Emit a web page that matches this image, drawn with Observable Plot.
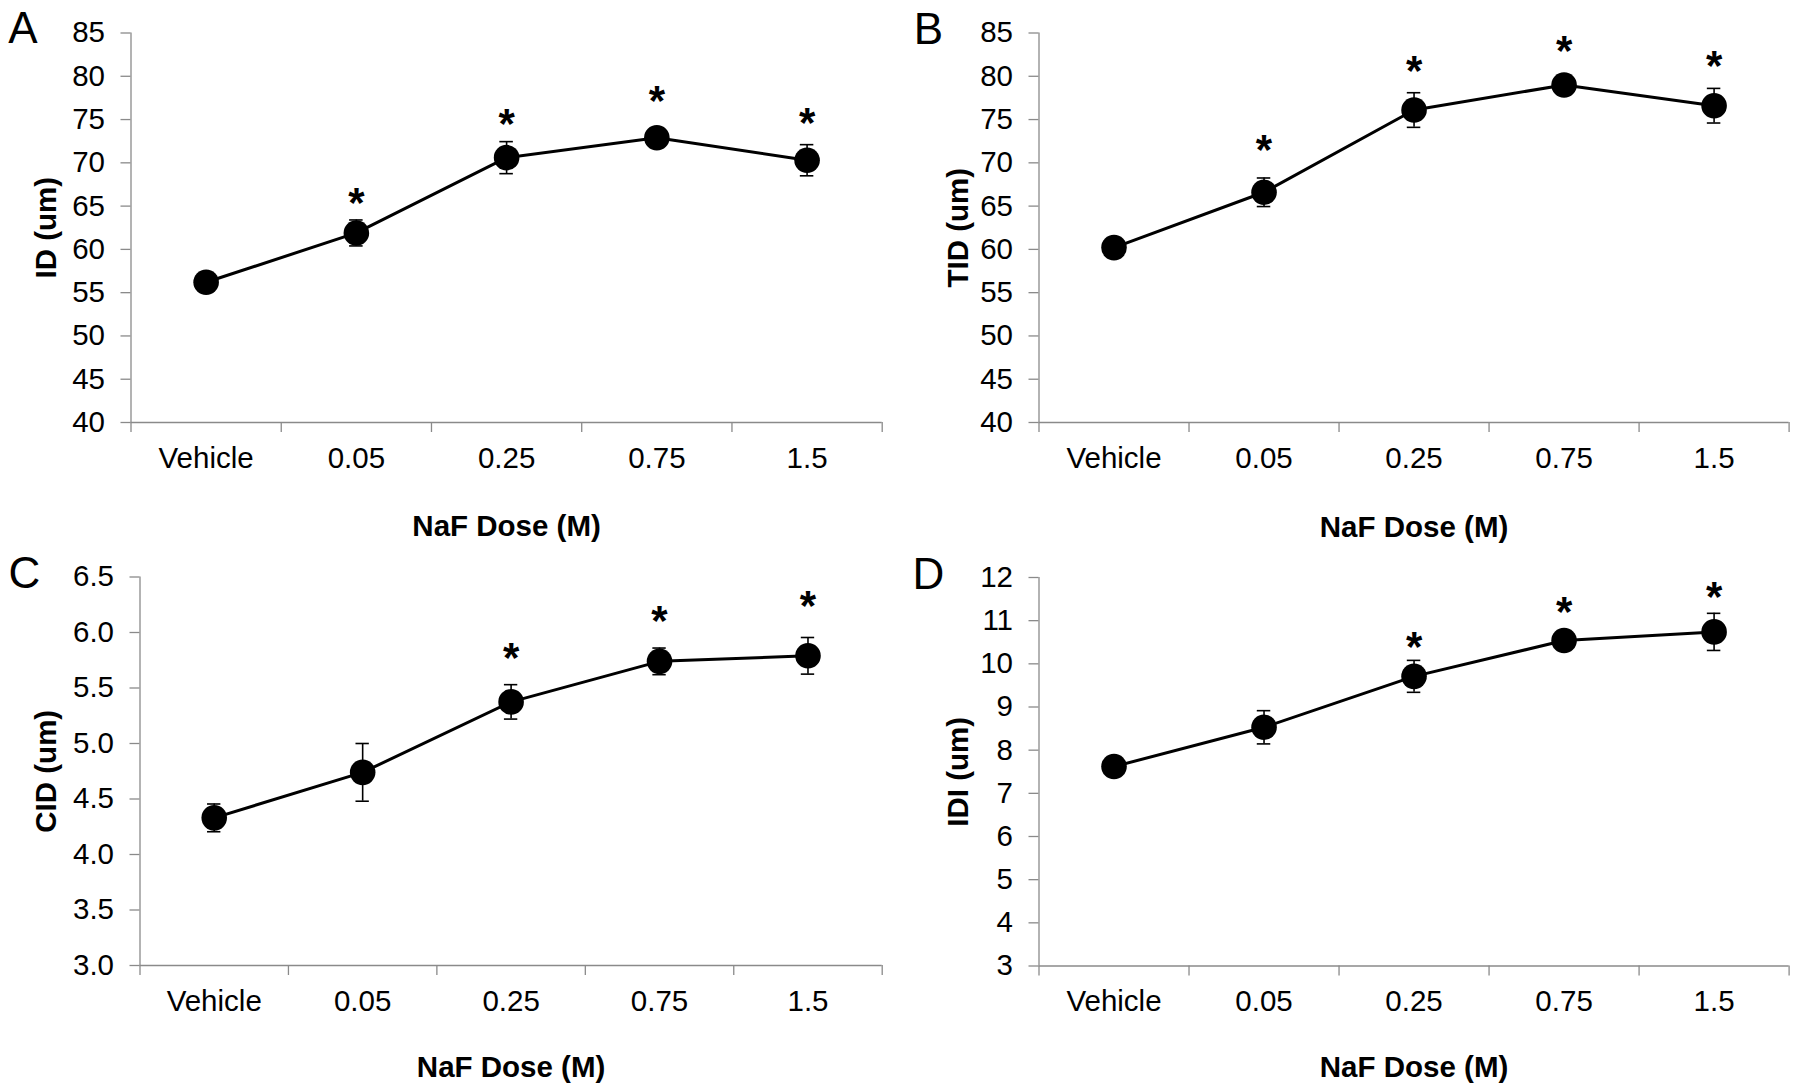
<!DOCTYPE html>
<html>
<head>
<meta charset="utf-8">
<script src="https://cdn.jsdelivr.net/npm/d3@7"></script>
<script src="https://cdn.jsdelivr.net/npm/@observablehq/plot@0.6"></script>
<style>
  html, body { margin: 0; padding: 0; background: #fff; }
  #root { position: relative; width: 1800px; height: 1089px; background: #fff; overflow: hidden; }
  #root > svg { position: absolute; }
</style>
</head>
<body>
<div id="root"></div>
<script>
// ---- data ----
const categories = ["Vehicle", "0.05", "0.25", "0.75", "1.5"];

const idMean  = [56.2, 61.9, 70.6, 72.9, 70.3];
const idErr   = [0.4, 1.5, 1.85, 0.7, 1.8];
const idStar  = [null, 66.2, 75.4, 78.0, 75.5];

const tidMean = [60.2, 66.6, 76.1, 79.0, 76.6];
const tidErr  = [0.5, 1.65, 2.0, 0.8, 2.0];
const tidStar = [null, 72.4, 81.5, 83.8, 82.1];

const cidMean = [4.33, 4.74, 5.375, 5.74, 5.79];
const cidErr  = [0.125, 0.26, 0.155, 0.12, 0.165];
const cidStar = [null, null, 5.84, 6.17, 6.31];

const idiMean = [7.62, 8.53, 9.71, 10.54, 10.74];
const idiErr  = [0.15, 0.385, 0.37, 0.15, 0.43];
const idiStar = [null, null, 10.57, 11.37, 11.73];

const ticksAB = [40, 45, 50, 55, 60, 65, 70, 75, 80, 85];
const ticksC  = [3.0, 3.5, 4.0, 4.5, 5.0, 5.5, 6.0, 6.5];
const ticksD  = [3, 4, 5, 6, 7, 8, 9, 10, 11, 12];

const xTitle = "NaF Dose (M)";

// ---- layout ----
const panels = [
  {letter: "A", ylabel: "ID (um)",  mean: idMean,  err: idErr,  star: idStar,  ticks: ticksAB, fmt: d3.format("d"),
   left: 0,   top: 0,   height: 545, mL: 130.5, mR: 18.3, mT: 32.5, mB: 123, yLabX: 46,   letX: 22.5, letY: 28,  xLabY: 526},
  {letter: "B", ylabel: "TID (um)", mean: tidMean, err: tidErr, star: tidStar, ticks: ticksAB, fmt: d3.format("d"),
   left: 900, top: 0,   height: 545, mL: 138.5, mR: 11.4, mT: 32.5, mB: 123, yLabX: 57.7, letX: 28,   letY: 29,  xLabY: 527},
  {letter: "C", ylabel: "CID (um)", mean: cidMean, err: cidErr, star: cidStar, ticks: ticksC,  fmt: d3.format(".1f"),
   left: 0,   top: 545, height: 544, mL: 139.5, mR: 18.3, mT: 31.5, mB: 124, yLabX: 46,   letX: 24,   letY: 28,  xLabY: 522},
  {letter: "D", ylabel: "IDI (um)", mean: idiMean, err: idiErr, star: idiStar, ticks: ticksD,  fmt: d3.format("d"),
   left: 900, top: 545, height: 544, mL: 138.5, mR: 11.4, mT: 32,   mB: 123.5, yLabX: 57.7, letX: 28,  letY: 29,  xLabY: 522}
];

const grey = "#8a8a8a";
const font = "'Liberation Sans', Arial, sans-serif";
const root = document.getElementById("root");

for (const p of panels) {
  const rows = categories.map((c, i) => ({i, c, v: p.mean[i], e: p.err[i], s: p.star[i]}));
  const cx = d => d.i + 0.5;
  const capW = 0.045;
  const yDom = [p.ticks[0], p.ticks[p.ticks.length - 1]];
  const frameBottom = p.height - p.mB;

  const chart = Plot.plot({
    width: 900,
    height: p.height,
    marginLeft: p.mL,
    marginRight: p.mR,
    marginTop: p.mT,
    marginBottom: p.mB,
    style: {fontFamily: font, fontSize: "29px", color: "#000", background: "transparent", overflow: "visible"},
    x: {type: "linear", domain: [0, categories.length]},
    y: {domain: yDom},
    marks: [
      // axes
      Plot.axisY({ticks: p.ticks, tickSize: 10, tickPadding: 16, tickFormat: p.fmt, stroke: grey, strokeWidth: 1.3, label: null, fontSize: 29.5, fill: "#000"}),
      Plot.axisX({ticks: d3.range(0, categories.length + 1), tickSize: 10, tickFormat: () => "", stroke: grey, strokeWidth: 1.3, label: null}),
      Plot.axisX({ticks: categories.map((c, i) => i + 0.5), tickSize: 0, tickPadding: 24.5, tickFormat: t => categories[Math.floor(t)], label: null, fontSize: 29.5, fill: "#000"}),
      Plot.ruleX([0], {stroke: grey, strokeWidth: 1.3}),
      Plot.ruleY([yDom[0]], {stroke: grey, strokeWidth: 1.3}),
      // error bars
      Plot.ruleX(rows, {x: cx, y1: d => d.v - d.e, y2: d => d.v + d.e, stroke: "#000", strokeWidth: 1.6}),
      Plot.ruleY(rows, {y: d => d.v + d.e, x1: d => cx(d) - capW, x2: d => cx(d) + capW, stroke: "#000", strokeWidth: 1.6}),
      Plot.ruleY(rows, {y: d => d.v - d.e, x1: d => cx(d) - capW, x2: d => cx(d) + capW, stroke: "#000", strokeWidth: 1.6}),
      // line + dots
      Plot.line(rows, {x: cx, y: "v", stroke: "#000", strokeWidth: 3}),
      Plot.dot(rows, {x: cx, y: "v", r: 12.8, fill: "#000", stroke: "none"}),
      // significance stars
      Plot.text(rows.filter(d => d.s != null), {x: cx, y: "s", text: () => "*", fontSize: 42, fontWeight: "bold", fill: "#000", lineAnchor: "middle", dy: 8}),
      // y title
      Plot.text([p.ylabel], {frameAnchor: "left", rotate: -90, dx: p.yLabX - p.mL, lineAnchor: "middle", textAnchor: "middle", fontWeight: "bold", fontSize: 29.5, fill: "#000"}),
      // x title
      Plot.text([xTitle], {frameAnchor: "bottom", dy: p.xLabY - frameBottom, lineAnchor: "middle", textAnchor: "middle", fontWeight: "bold", fontSize: 29.5, fill: "#000"}),
      // panel letter
      Plot.text([p.letter], {frameAnchor: "top-left", dx: p.letX - p.mL, dy: p.letY - p.mT, lineAnchor: "middle", textAnchor: "middle", fontSize: 44, fill: "#000"})
    ]
  });
  chart.style.left = p.left + "px";
  chart.style.top = p.top + "px";
  root.appendChild(chart);
}
</script>
</body>
</html>
